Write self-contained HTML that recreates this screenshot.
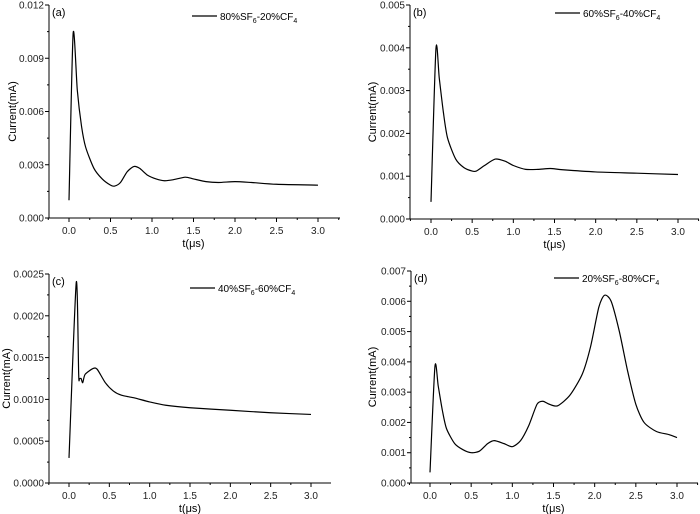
<!DOCTYPE html>
<html><head><meta charset="utf-8"><style>
html,body{margin:0;padding:0;background:#fff;}
svg{display:block;font-family:"Liberation Sans",Arial,sans-serif;}
</style></head><body>
<svg id="s" width="700" height="514" viewBox="0 0 700 514" xmlns="http://www.w3.org/2000/svg"></svg>
<script>
const S=document.getElementById('s');
let out='';
const panels=[
 {L:49,T:5,B:218,R:340,x0:69,x3:318,ymax:0.012,ystep:0.003,dec:3,ylx:13,lab:'(a)',leg:[192,16,'80','20'],
  d:[[0,0.001],[0.05,0.0104],[0.1,0.0072],[0.15,0.0052],[0.2,0.0040],[0.3,0.0028],[0.4,0.0022],[0.5,0.00185],[0.55,0.0018],[0.62,0.002],[0.7,0.0026],[0.78,0.0029],[0.85,0.0028],[0.95,0.0024],[1.05,0.0022],[1.15,0.0021],[1.25,0.00215],[1.4,0.0023],[1.5,0.0022],[1.65,0.00205],[1.8,0.002],[2.0,0.00205],[2.2,0.002],[2.5,0.0019],[3.0,0.00185]]},
 {L:410,T:5,B:219,R:699,x0:431,x3:678,ymax:0.005,ystep:0.001,dec:3,ylx:373,lab:'(b)',leg:[555,13,'60','40'],
  d:[[0,0.0004],[0.06,0.00398],[0.1,0.0033],[0.15,0.0025],[0.2,0.0019],[0.3,0.0014],[0.4,0.0012],[0.5,0.00112],[0.55,0.00112],[0.65,0.00125],[0.78,0.0014],[0.9,0.00135],[1.0,0.00125],[1.15,0.00116],[1.3,0.00116],[1.45,0.00118],[1.6,0.00115],[2.0,0.0011],[2.5,0.00107],[3.0,0.00104]]},
 {L:49,T:274,B:483,R:331,x0:69,x3:311,ymax:0.0025,ystep:0.0005,dec:4,ylx:7,lab:'(c)',leg:[190,288,'40','60'],
  d:[[0,0.0003],[0.09,0.0024],[0.12,0.0013],[0.13,0.00125],[0.15,0.00125],[0.17,0.0012],[0.2,0.0013],[0.3,0.00137],[0.35,0.00136],[0.45,0.0012],[0.55,0.0011],[0.65,0.00105],[0.8,0.00102],[1.0,0.00097],[1.2,0.00093],[1.5,0.0009],[2.0,0.00087],[2.5,0.00084],[3.0,0.00082]]},
 {L:411,T:271,B:483,R:698,x0:430,x3:677,ymax:0.007,ystep:0.001,dec:3,ylx:373,lab:'(d)',leg:[554,278,'20','80'],
  d:[[0,0.00035],[0.06,0.00385],[0.1,0.0032],[0.15,0.0024],[0.2,0.0018],[0.3,0.0013],[0.4,0.0011],[0.5,0.001],[0.6,0.00105],[0.7,0.0013],[0.78,0.0014],[0.9,0.0013],[1.0,0.0012],[1.1,0.0014],[1.2,0.0019],[1.3,0.0026],[1.37,0.0027],[1.45,0.0026],[1.55,0.00255],[1.7,0.0029],[1.85,0.0036],[1.95,0.0045],[2.05,0.0058],[2.12,0.0062],[2.2,0.006],[2.3,0.005],[2.4,0.0037],[2.5,0.0026],[2.6,0.002],[2.75,0.0017],[2.9,0.0016],[3.0,0.0015]]}
];
for(const p of panels){
 const sx=(p.x3-p.x0)/3, X=v=>p.x0+v*sx, Y=v=>p.B-(v/p.ymax)*(p.B-p.T);
 out+=`<path d="M${p.L},${p.T}V${p.B}H${p.R}" stroke="#000" stroke-width="1" fill="none"/>`;
 const n=Math.round(p.ymax/p.ystep);
 for(let i=0;i<=2*n;i++){const y=Y(i*p.ystep/2);const len=i%2?2:4;
  out+=`<line x1="${p.L-len}" y1="${y}" x2="${p.L}" y2="${y}" stroke="#000"/>`;
  if(i%2==0) out+=`<text x="${p.L-5}" y="${y+3.5}" font-size="10" text-anchor="end" fill="#222">${(i/2*p.ystep).toFixed(p.dec)}</text>`;}
 for(let v=-0.25;v<=3.26;v+=0.25){const x=X(v);if(x>p.R)break;const maj=Math.abs(v*2-Math.round(v*2))<1e-6;
  out+=`<line x1="${x}" y1="${p.B}" x2="${x}" y2="${p.B+(maj?4:2)}" stroke="#000"/>`;
  if(maj&&v>=0) out+=`<text x="${x}" y="${p.B+16}" font-size="10" text-anchor="middle" fill="#222">${v.toFixed(1)}</text>`;}
 out+=`<text x="${(p.x0+p.x3)/2}" y="${p.B+29}" font-size="11" text-anchor="middle">t(μs)</text>`;
 const cy=(p.T+p.B)/2;
 out+=`<text x="${p.ylx}" y="${cy}" font-size="11" text-anchor="middle" dominant-baseline="middle" transform="rotate(-90 ${p.ylx} ${cy})">Current(mA)</text>`;
 out+=`<text x="${p.L+3}" y="${p.T+11}" font-size="11">${p.lab}</text>`;
 const [lx,ly,a,b]=p.leg;
 out+=`<line x1="${lx}" y1="${ly}" x2="${lx+25}" y2="${ly}" stroke="#000" stroke-width="1.2"/>`;
 out+=`<text x="${lx+28}" y="${ly+4}" font-size="10">${a}%SF<tspan font-size="7" dy="3">6</tspan><tspan dy="-3">-${b}%CF</tspan><tspan font-size="7" dy="3">4</tspan></text>`;
 const pts=p.d.map(q=>[X(q[0]),Y(q[1])]);
 let d=`M${pts[0][0]},${pts[0][1]}`;
 for(let i=0;i<pts.length-1;i++){const p0=pts[i-1]||pts[i],p1=pts[i],p2=pts[i+1],p3=pts[i+2]||p2;const t=8;
  d+=`C${p1[0]+(p2[0]-p0[0])/t},${p1[1]+(p2[1]-p0[1])/t} ${p2[0]-(p3[0]-p1[0])/t},${p2[1]-(p3[1]-p1[1])/t} ${p2[0]},${p2[1]}`;}
 out+=`<path d="${d}" stroke="#000" stroke-width="1.2" fill="none" stroke-linejoin="round"/>`;
}
S.innerHTML=out;
</script>
</body></html>
